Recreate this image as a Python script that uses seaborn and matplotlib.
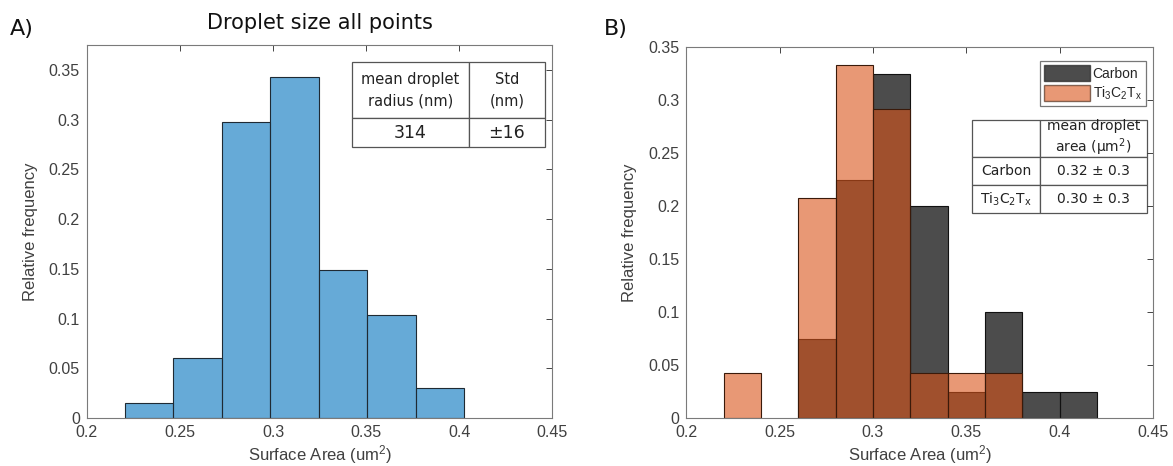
import numpy as np
import pandas as pd
import matplotlib
matplotlib.use("Agg")
import matplotlib.pyplot as plt
import seaborn as sns
from matplotlib.patches import Patch

# Panel A: all droplets
edges_all = [0.2205, 0.2465, 0.2725, 0.2985, 0.3245, 0.3505, 0.3765, 0.4025]
freq_all = [0.015, 0.060, 0.298, 0.343, 0.149, 0.104, 0.030]

# Panel B: carbon vs Ti3C2Tx
edges_b = [0.22, 0.24, 0.26, 0.28, 0.30, 0.32, 0.34, 0.36, 0.38, 0.40, 0.42]
freq_carbon = [0.0, 0.0, 0.075, 0.225, 0.325, 0.200, 0.025, 0.100, 0.025, 0.025]
freq_ti = [0.042, 0.0, 0.208, 0.333, 0.292, 0.042, 0.042, 0.042, 0.0, 0.0]

xticks = [0.2, 0.25, 0.3, 0.35, 0.4, 0.45]
xtick_labels = ["0.2", "0.25", "0.3", "0.35", "0.4", "0.45"]
yticks = [0, 0.05, 0.1, 0.15, 0.2, 0.25, 0.3, 0.35]
ytick_labels = ["0", "0.05", "0.1", "0.15", "0.2", "0.25", "0.3", "0.35"]

sns.set_style("white")
plt.rcParams['font.family'] = ['Liberation Sans', 'DejaVu Sans']
plt.rcParams['mathtext.default'] = 'regular'

axis_grey = "#262626"
label_grey = "#404040"

fig = plt.figure(figsize=(11.73, 4.66), dpi=100)
ax_a = fig.add_axes([0.074, 0.103, 0.397, 0.800])
ax_b = fig.add_axes([0.585, 0.103, 0.398, 0.796])


def mid(e):
    e = np.asarray(e)
    return (e[:-1] + e[1:]) / 2


def style_axes(ax, ytop):
    ax.set_xlim(0.2, 0.45)
    ax.set_ylim(0, ytop)
    ax.set_xticks(xticks)
    ax.set_xticklabels(xtick_labels)
    ax.set_yticks(yticks)
    ax.set_yticklabels(ytick_labels)
    ax.tick_params(direction="in", top=True, right=True, length=4, width=0.6,
                   colors=axis_grey, labelcolor=label_grey, labelsize=11.5, pad=5)
    for s in ax.spines.values():
        s.set_color("#7a7a7a")
        s.set_linewidth(0.8)
    ax.set_xlabel("Surface Area (um$^2$)", fontsize=12, color=label_grey, labelpad=2)
    ax.set_ylabel("Relative frequency", fontsize=12, color=label_grey, labelpad=8)


# ---- Panel A
sns.histplot(x=mid(edges_all), weights=freq_all, bins=edges_all, ax=ax_a,
             color="#0072BD", alpha=0.6, edgecolor="#1f2a33", linewidth=0.8)
style_axes(ax_a, 0.375)
ax_a.set_title("Droplet size all points", fontsize=15, family="DejaVu Sans",
               color="#111111", pad=12)
fig.text(0.008, 0.925, "A)", fontsize=16, family="DejaVu Sans", color="#111111")

tab_a = ax_a.table(cellText=[["mean droplet\nradius (nm)", "Std\n(nm)"], ["314", "±16"]],
                   cellLoc="center", bbox=[0.569, 0.727, 0.414, 0.228])
for (r, c), cell in tab_a.get_celld().items():
    cell.set_edgecolor("#555555")
    cell.set_linewidth(0.9)
    cell.set_height(0.66 if r == 0 else 0.34)
    cell.set_width(0.61 if c == 0 else 0.39)
    cell.get_text().set_family("DejaVu Sans")
    cell.get_text().set_color("#222222")
    if r == 0:
        cell.get_text().set_fontsize(10.5)
        cell.get_text().set_linespacing(1.5)
    else:
        cell.get_text().set_fontsize(12.5)
tab_a.auto_set_font_size(False)

# ---- Panel B
sns.histplot(x=mid(edges_b), weights=freq_carbon, bins=edges_b, ax=ax_b,
             color="#000000", alpha=0.7, edgecolor="#111111", linewidth=0.8)
sns.histplot(x=mid(edges_b), weights=freq_ti, bins=edges_b, ax=ax_b,
             color="#D95319", alpha=0.6, edgecolor="#3a1a0a", linewidth=0.8)
# hide empty bars' edges
for p in ax_b.patches:
    if p.get_height() == 0:
        p.set_visible(False)
style_axes(ax_b, 0.35)
fig.text(0.515, 0.925, "B)", fontsize=16, family="DejaVu Sans", color="#111111")

handles = [Patch(facecolor="#000000", alpha=0.7, edgecolor="#222222", label="Carbon"),
           Patch(facecolor="#D95319", alpha=0.6, edgecolor="#3a1a0a", label="Ti$_3$C$_2$T$_x$")]
leg = ax_b.legend(handles=handles, loc="upper right", bbox_to_anchor=(0.99, 0.97),
                  fontsize=10, frameon=True, fancybox=False, handlelength=3.3,
                  handleheight=1.4, handletextpad=0.2, borderpad=0.3,
                  labelspacing=0.25, borderaxespad=0.2)
leg.get_frame().set_edgecolor("#555555")
leg.get_frame().set_linewidth(0.9)

tab_b = ax_b.table(cellText=[["", "mean droplet\narea (µm$^2$)"],
                             ["Carbon", "0.32 ± 0.3"],
                             ["Ti$_3$C$_2$T$_x$", "0.30 ± 0.3"]],
                   cellLoc="center", bbox=[0.612, 0.553, 0.375, 0.251])
for (r, c), cell in tab_b.get_celld().items():
    cell.set_edgecolor("#555555")
    cell.set_linewidth(0.9)
    cell.set_height([0.40, 0.30, 0.30][r])
    cell.set_width(0.39 if c == 0 else 0.61)
    cell.get_text().set_family("DejaVu Sans")
    cell.get_text().set_color("#222222")
    cell.get_text().set_fontsize(10)
tab_b.auto_set_font_size(False)

fig.savefig("out.png", dpi=100)
